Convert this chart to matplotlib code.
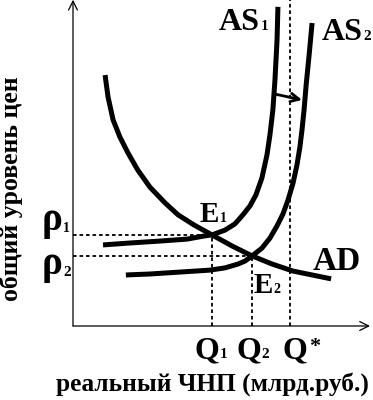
import matplotlib.pyplot as plt

# fonts: bold Times-like serif with Cyrillic
plt.rcParams["font.family"] = ["Liberation Serif", "DejaVu Serif"]
plt.rcParams["font.weight"] = "bold"

ad_q = [10.8, 11.8, 13.5, 15.8, 18.5, 21.8, 25.9, 31.0, 35.4, 40.7, 46.8,
        53.5, 60.3, 67.0, 74.1, 80.5, 86.9]
ad_p = [77.7, 70.9, 63.8, 58.5, 53.6, 48.3, 43.0, 38.1, 34.4, 31.3, 28.2,
        24.8, 21.7, 19.2, 17.0, 15.8, 14.6]

as1_q = [10.1, 19.2, 29.3, 38.4, 44.4, 46.8, 51.2, 54.5, 57.2, 59.6, 61.6,
         63.6, 65.3, 66.3, 67.3, 68.0, 68.7, 69.0]
as1_p = [25.1, 25.7, 26.3, 26.9, 27.9, 28.2, 29.7, 31.6, 34.4, 37.2, 40.6,
         45.8, 52.9, 59.1, 66.9, 76.2, 88.5, 98.8]

as2_q = [17.8, 25.9, 36.0, 46.1, 51.2, 55.6, 57.9, 60.3, 63.6, 66.3, 68.7,
         70.7, 72.4, 74.1, 75.4, 76.4, 77.1, 77.8, 78.5, 79.5, 80.5]
as2_p = [15.8, 16.1, 16.7, 17.3, 18.0, 19.2, 20.1, 21.7, 24.1, 27.2, 31.0,
         34.7, 39.0, 44.3, 49.8, 55.4, 60.7, 66.9, 74.6, 83.9, 93.8]

e1 = (46.8, 28.2)
e2 = (60.3, 21.7)
q_star = 73.1
shift_from = (68.0, 71.8)
shift_to = (77.1, 70.0)

fig = plt.figure(figsize=(3.73, 4.0), dpi=100)
ax = fig.add_axes([73 / 373, 74 / 400, 297 / 373, 323 / 400])
ax.set_xlim(0, 100)
ax.set_ylim(0, 100)
ax.axis("off")

# axes with open arrowheads
axis_arrow = dict(arrowstyle="->", lw=0.9, color="black", mutation_scale=16, shrinkA=0, shrinkB=0)
ax.annotate("", xy=(0, 101), xytext=(0, 0), arrowprops=axis_arrow, annotation_clip=False)
ax.annotate("", xy=(100, 0), xytext=(0, 0), arrowprops=axis_arrow, annotation_clip=False)

# dotted guides
dots = dict(color="black", lw=1.3, ls=(0, (2, 1.6)), clip_on=False)
ax.plot([0, e1[0]], [e1[1], e1[1]], **dots)
ax.plot([0, e2[0]], [e2[1], e2[1]], **dots)
ax.plot([e1[0], e1[0]], [0, e1[1]], **dots)
ax.plot([e2[0], e2[0]], [0, e2[1]], **dots)
ax.plot([q_star, q_star], [0, 101], **dots)

# curves
curve = dict(color="black", lw=3.6, solid_capstyle="butt", solid_joinstyle="round")
ax.plot(ad_q, ad_p, **curve)
ax.plot(as1_q, as1_p, **curve)
ax.plot(as2_q, as2_p, **curve)

ax.annotate("", xy=shift_to, xytext=shift_from,
            arrowprops=dict(arrowstyle="->", lw=2.0, color="black", mutation_scale=15,
                            shrinkA=0, shrinkB=0))


def label(x, y, main, sub, size, subsize, rise=0.0):
    t = ax.text(x, y, main, fontsize=size, fontweight="bold", ha="left", va="baseline",
                clip_on=False)
    ax.annotate(sub, xy=(1, 0), xycoords=t, xytext=(0.3, 0.216 * size + rise),
                textcoords="offset points", fontsize=subsize, fontweight="bold",
                ha="left", va="baseline", annotation_clip=False)


# pixel -> data helper for label placement
def px(x, y):
    return (x - 73) / 2.97, (326 - y) / 3.23


label(*px(219, 30), "AS", "1", 23, 11)
label(*px(322, 40), "AS", "2", 23, 11)
label(*px(200, 222), "E", "1", 21, 10)
label(*px(254, 293), "E", "2", 21, 10)
ax.text(*px(313, 270), "AD", fontsize=24, fontweight="bold", ha="left", va="baseline")
label(*px(42, 230), "\u03c1", "1", 28, 10, rise=-1)
label(*px(42, 274), "\u03c1", "2", 28, 11, rise=-1)
label(*px(194, 358), "Q", "1", 23, 11)
label(*px(236, 358), "Q", "2", 23, 11)
ax.text(*px(282, 358), "Q", fontsize=23, fontweight="bold", ha="left", va="baseline")
ax.text(*px(309, 352), "*", fontsize=16, fontweight="bold", ha="left", va="baseline")

fig.text(212 / 373, 1 - 391 / 400, "реальный ЧНП (млрд.руб.)", fontsize=18.3,
         fontweight="bold", ha="center", va="baseline")
fig.text(23 / 373, 1 - 189 / 400, "общий уровень цен", fontsize=18.5, fontweight="bold",
         rotation=90, ha="right", va="center")

fig.savefig("out.png", dpi=100)
